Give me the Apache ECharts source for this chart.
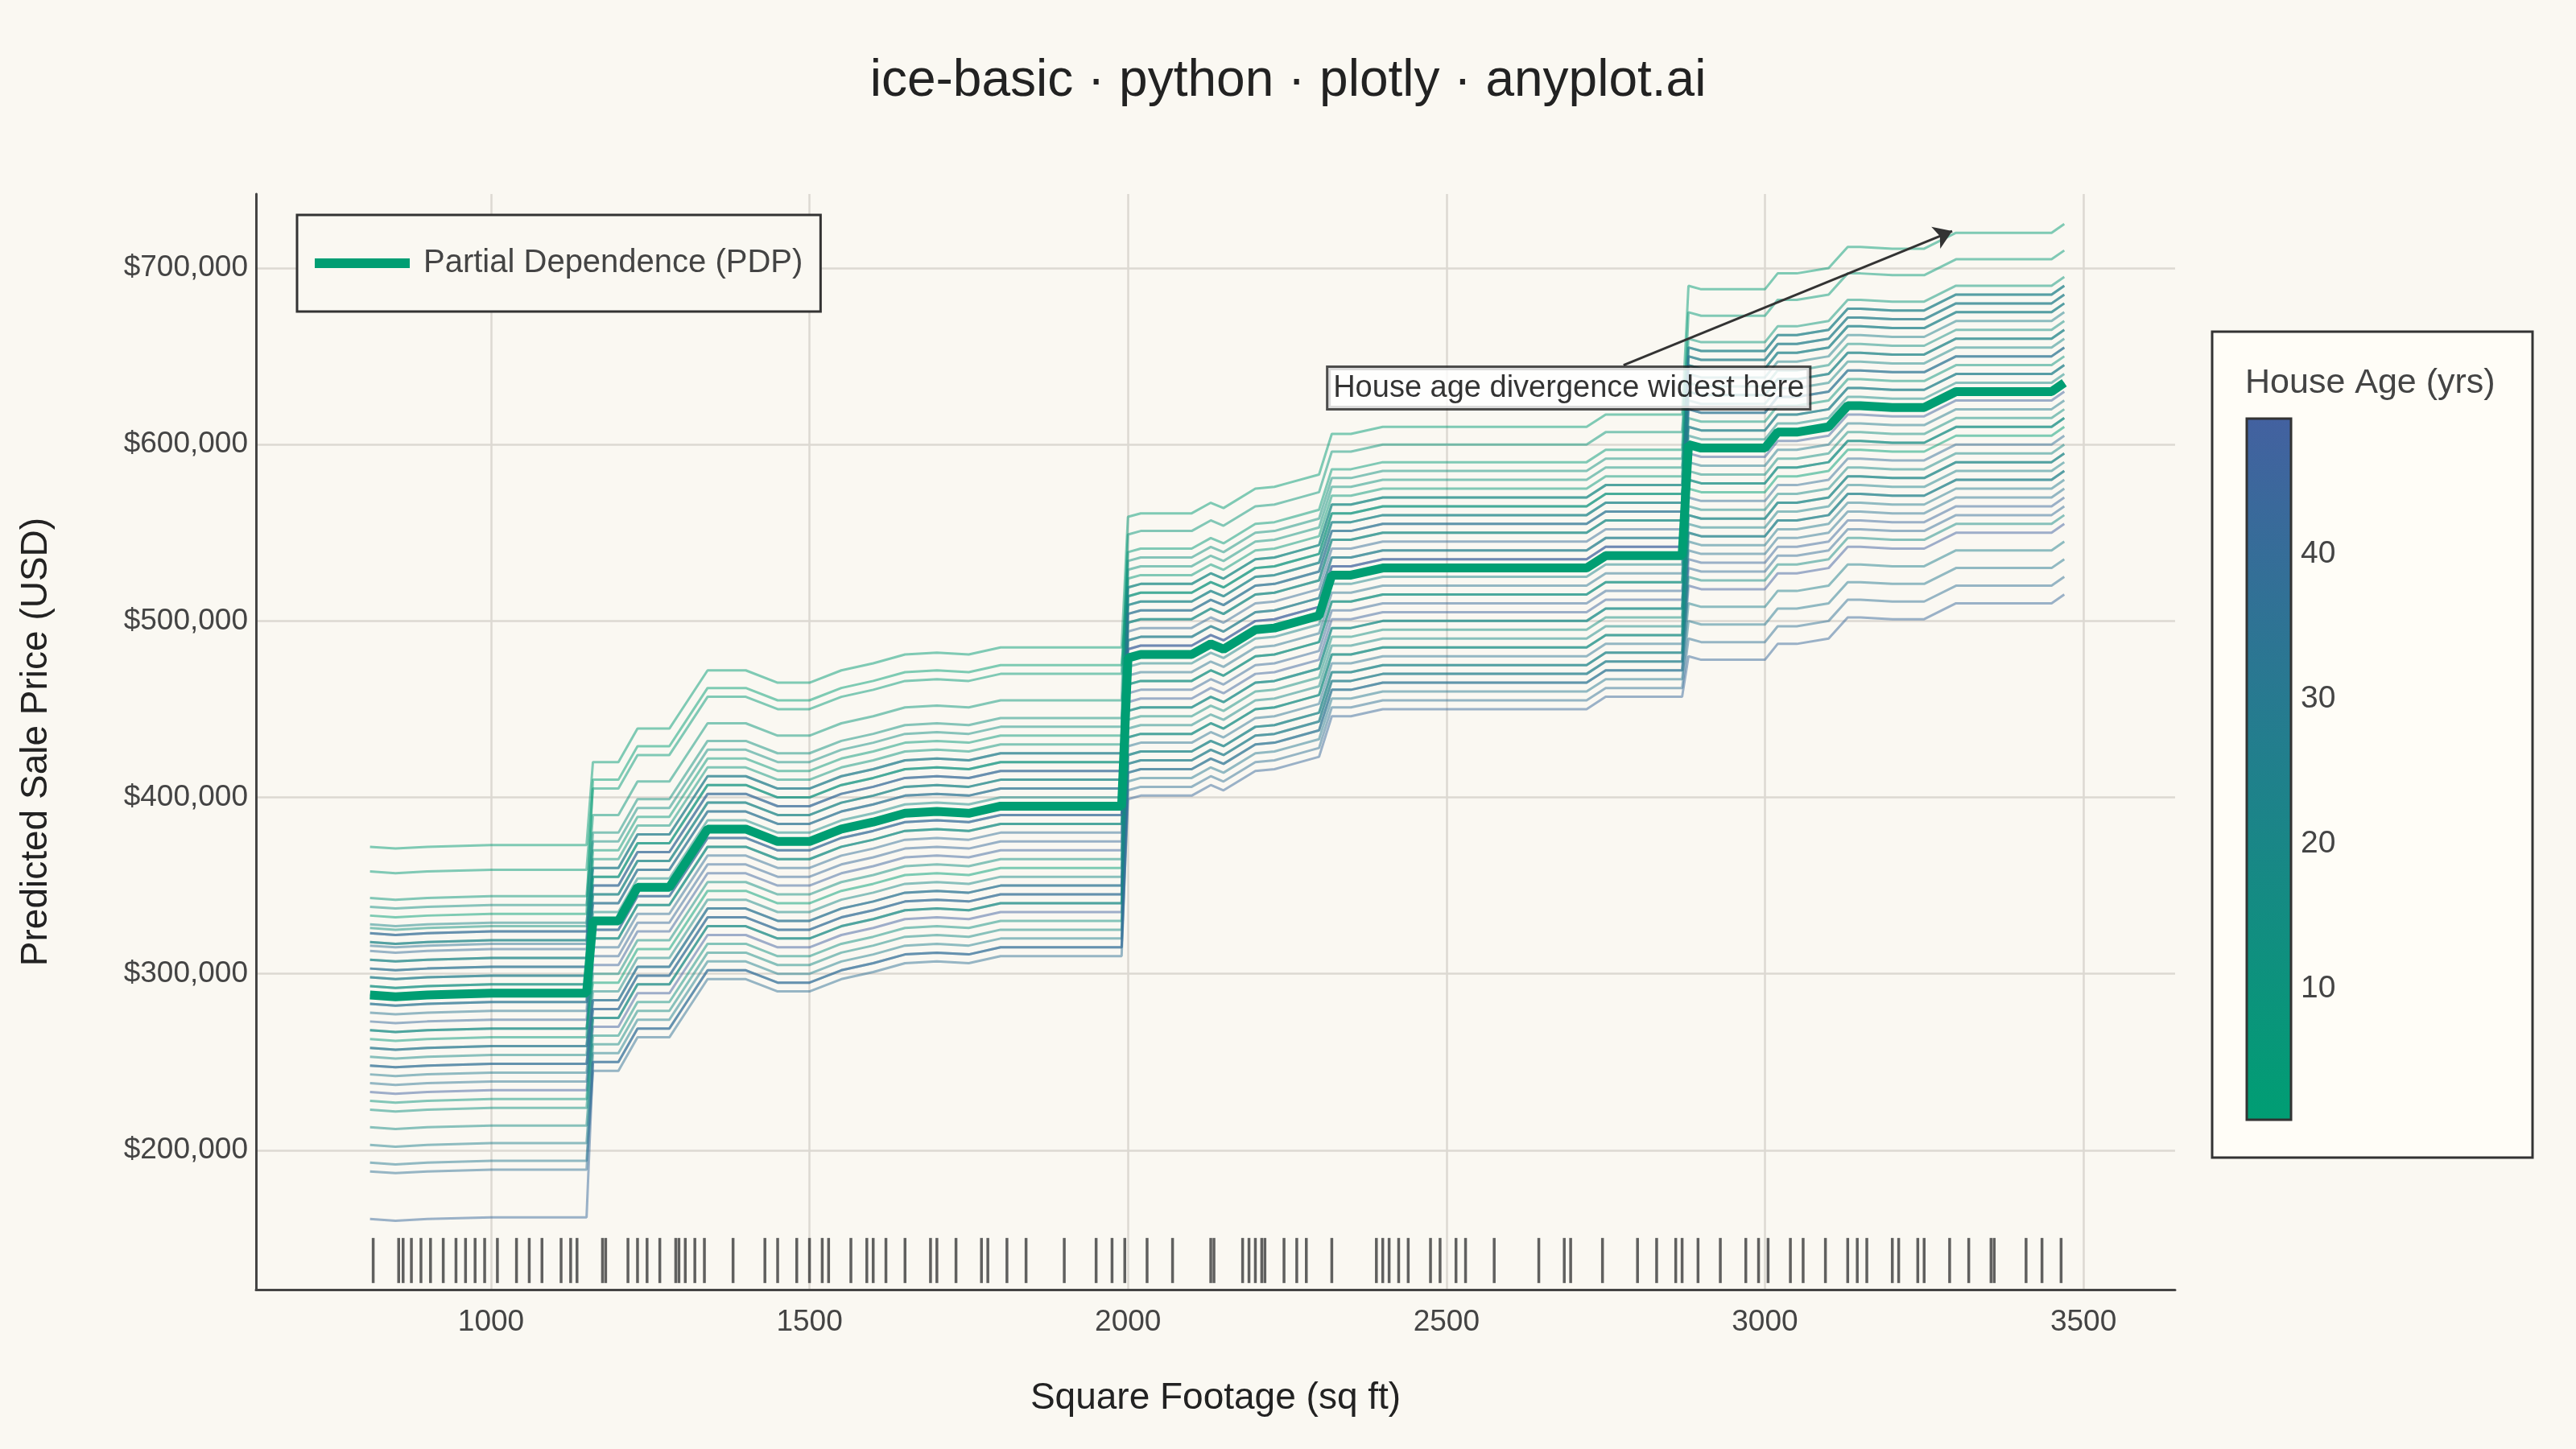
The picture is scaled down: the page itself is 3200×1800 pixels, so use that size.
<!DOCTYPE html>
<html>
<head>
<meta charset="utf-8">
<script src="https://cdn.jsdelivr.net/npm/echarts@6/dist/echarts.min.js"></script>
<style>
  html, body { margin: 0; padding: 0; background: #FAF8F2; }
  #chart { width: 3200px; height: 1800px; }
</style>
</head>
<body>
<div id="chart"></div>
<script>
// grid of square footage values
var sqft = [810, 850, 900, 1000, 1100, 1150, 1160, 1180, 1200, 1230, 1250, 1280, 1300, 1340, 1360, 1400, 1450, 1500,
  1550, 1600, 1650, 1700, 1750, 1800, 1850, 1990, 2000, 2020, 2100, 2130, 2150, 2200, 2230, 2250, 2300, 2320, 2350,
  2400, 2500, 2720, 2750, 2870, 2880, 2900, 3000, 3020, 3050, 3100, 3130, 3150, 3200, 3250, 3300, 3450, 3470];

// partial dependence (thousands USD)
var pdp = [288, 287, 288, 289, 289, 289, 330, 330, 330, 349, 349, 349, 360, 382, 382, 382, 375, 375,
  382, 386, 391, 392, 391, 395, 395, 395, 479, 481, 481, 487, 484, 495, 496, 498, 503, 526, 526,
  530, 530, 530, 537, 537, 600, 598, 598, 607, 607, 610, 622, 622, 621, 621, 630, 630, 635];

// ICE curves: [house age, offset in <1155 sqft, <1995, <2875, >=2875] (thousands USD)
var iceLines = [
  [3, 84, 90, 80, 90], [5, 70, 75, 60, 75], [8, 55, 60, 70, 60], [2, 45, 80, 40, 50],
  [12, 38, 50, 55, 45], [6, 30, 40, 45, 55], [15, 50, 45, 30, 35], [20, 40, 30, 35, 25],
  [25, 35, 25, 30, 40], [30, 30, 30, 25, 45], [35, 28, 20, 20, 55], [40, 25, 15, 15, 50],
  [45, 20, 20, 10, 30], [48, 15, 10, 5, 20], [10, 20, 35, 20, 15], [4, 10, 25, 35, 10],
  [18, 5, 5, 10, 5], [22, 0, 0, -5, 0], [28, -5, -5, 0, -10], [33, -10, -10, -10, -20],
  [38, 10, -15, -15, -30], [42, -15, -20, -20, -40], [46, -20, -25, -25, -50], [7, -25, -10, -30, -20],
  [14, -30, -30, -35, -15], [1, -20, -35, -15, -25], [19, -35, -40, -40, -35], [24, -40, -45, -30, -45],
  [29, -45, -50, -45, -55], [34, -50, -55, -50, -60], [39, -30, -45, -55, -70], [44, -40, -50, -60, -65],
  [49, -55, -60, -65, -80], [9, -60, -55, -45, -40], [13, -65, -65, -55, -50], [17, -75, -70, -60, -75],
  [26, -85, -75, -65, -90], [31, -95, -80, -70, -100], [37, -100, -85, -75, -110], [43, -127, -80, -80, -120],
  [11, 5, 15, 50, 30], [27, 15, 10, 40, 20], [36, -5, 0, 25, 10], [47, 35, -5, 5, -5]
];

// observed square footage (rug)
var rug = [815, 855, 862, 875, 890, 905, 925, 945, 960, 975, 990, 1010, 1040, 1060, 1080, 1110, 1125, 1135, 1175, 1180,
  1215, 1230, 1245, 1265, 1290, 1295, 1305, 1320, 1335, 1380, 1430, 1450, 1480, 1500, 1520, 1530, 1565, 1590, 1600,
  1620, 1650, 1690, 1700, 1730, 1770, 1780, 1810, 1840, 1900, 1950, 1975, 1995, 2030, 2070, 2130, 2135, 2180, 2190,
  2200, 2210, 2215, 2245, 2265, 2280, 2320, 2390, 2400, 2410, 2425, 2440, 2475, 2490, 2515, 2530, 2575, 2645, 2685,
  2695, 2745, 2800, 2830, 2860, 2870, 2895, 2930, 2970, 2990, 3005, 3040, 3060, 3095, 3130, 3145, 3160, 3200, 3210,
  3240, 3250, 3290, 3320, 3355, 3360, 3410, 3435, 3465];

var yTicks = [200000, 300000, 400000, 500000, 600000, 700000];
var xTicks = [1000, 1500, 2000, 2500, 3000, 3500];

var ageMin = 1, ageMax = 49.4;
var stops = [[0, [0, 158, 115]], [0.5, [32, 128, 140]], [1, [67, 97, 160]]];
function ageColor(a) {
  var t = Math.max(0, Math.min(1, (a - ageMin) / (ageMax - ageMin)));
  for (var i = 1; i < stops.length; i++) {
    if (t <= stops[i][0]) {
      var s0 = stops[i - 1], s1 = stops[i], f = (t - s0[0]) / (s1[0] - s0[0]);
      var c = s0[1].map(function (v, k) { return Math.round(v + (s1[1][k] - v) * f); });
      return 'rgb(' + c.join(',') + ')';
    }
  }
}
function region(x) { return x < 1155 ? 1 : x < 1995 ? 2 : x < 2875 ? 3 : 4; }

var font = 'Liberation Sans, Arial, sans-serif';
var series = [];
iceLines.forEach(function (ln) {
  series.push({
    type: 'line', silent: true, symbol: 'none', z: 2,
    lineStyle: { width: 3, color: ageColor(ln[0]), opacity: 0.5 },
    data: sqft.map(function (x, i) { return [x, (pdp[i] + ln[region(x)]) * 1000]; })
  });
});
series.push({
  name: 'Partial Dependence (PDP)', type: 'line', symbol: 'none', z: 5,
  lineStyle: { width: 11, color: '#009E73' }, itemStyle: { color: '#009E73' },
  data: sqft.map(function (x, i) { return [x, pdp[i] * 1000]; })
});
series.push({
  type: 'scatter', silent: true, symbol: 'rect', symbolSize: [3.5, 56], z: 3,
  itemStyle: { color: '#3a3a3a' },
  data: rug.map(function (x) { return [x, 137500]; })
});
series.push({
  type: 'scatter', silent: true, symbolSize: 0, z: 10,
  data: [[2692, 632000]],
  label: {
    show: true, position: 'inside', formatter: 'House age divergence widest here',
    fontSize: 38, color: '#000', backgroundColor: '#fff', borderColor: '#222', borderWidth: 3,
    padding: [6, 6]
  },
  markLine: {
    silent: true, symbol: ['none', 'arrow'], symbolSize: 22,
    lineStyle: { color: '#333', width: 3, type: 'solid' }, label: { show: false },
    data: [[{ coord: [2778, 645000] }, { coord: [3294, 721000] }]]
  }
});

var chart = echarts.init(document.getElementById('chart'));
chart.setOption({
  backgroundColor: '#FAF8F2',
  animation: false,
  textStyle: { fontFamily: font },
  title: {
    text: 'ice-basic · python · plotly · anyplot.ai', left: 'center', top: 64,
    textStyle: { fontSize: 64, fontWeight: 'normal', color: '#222' }
  },
  legend: {
    data: [{ name: 'Partial Dependence (PDP)', icon: 'rect' }], left: 369, top: 267, orient: 'vertical',
    padding: [40, 22, 40, 22], borderColor: '#333', borderWidth: 3, backgroundColor: '#FAF8F2',
    itemWidth: 118, itemHeight: 12, itemGap: 20,
    textStyle: { fontSize: 40, color: '#444', padding: [0, 0, 0, 12] }
  },
  grid: { left: 318, right: 498, top: 241, bottom: 198 },
  xAxis: {
    type: 'value', min: 631, max: 3644,
    name: 'Square Footage (sq ft)', nameLocation: 'middle', nameGap: 112,
    nameTextStyle: { fontSize: 46, color: '#222' },
    axisLine: { lineStyle: { color: '#444', width: 3 } },
    axisTick: { show: false, customValues: xTicks },
    axisLabel: { customValues: xTicks, fontSize: 37, color: '#444', margin: 22, formatter: function (v) { return String(v); } },
    splitLine: { show: true, lineStyle: { color: '#dcd9d2', width: 2.5 } }
  },
  yAxis: {
    type: 'value', min: 121000, max: 742000,
    name: 'Predicted Sale Price (USD)', nameLocation: 'middle', nameGap: 250,
    nameTextStyle: { fontSize: 46, color: '#222' },
    axisLine: { show: true, lineStyle: { color: '#444', width: 3 } },
    axisTick: { show: false, customValues: yTicks },
    axisLabel: {
      customValues: yTicks, fontSize: 37, color: '#444', margin: 10,
      formatter: function (v) { return '$' + v.toLocaleString('en-US'); }
    },
    splitLine: { show: true, lineStyle: { color: '#dcd9d2', width: 2.5 } }
  },
  graphic: [
    { type: 'rect', shape: { x: 2748, y: 412, width: 398, height: 1026 },
      style: { fill: '#FFFDF7', stroke: '#333', lineWidth: 3 } },
    { type: 'text', left: 2789, top: 455, style: { text: 'House Age (yrs)', fontSize: 43, fill: '#444', fontFamily: font } },
    { type: 'rect', shape: { x: 2791, y: 520, width: 55, height: 871 },
      style: { stroke: '#333', lineWidth: 3,
        fill: new echarts.graphic.LinearGradient(0, 0, 0, 1, [
          { offset: 0, color: 'rgb(67,97,160)' }, { offset: 0.5, color: 'rgb(32,128,140)' }, { offset: 1, color: 'rgb(0,158,115)' }
        ]) } }
  ].concat([10, 20, 30, 40].map(function (a) {
    var y = 520 + (ageMax - a) / (ageMax - ageMin) * 871;
    return { type: 'text', left: 2858, top: y - 20, style: { text: String(a), fontSize: 39, fill: '#444', fontFamily: font } };
  })),
  series: series
});
</script>
</body>
</html>
